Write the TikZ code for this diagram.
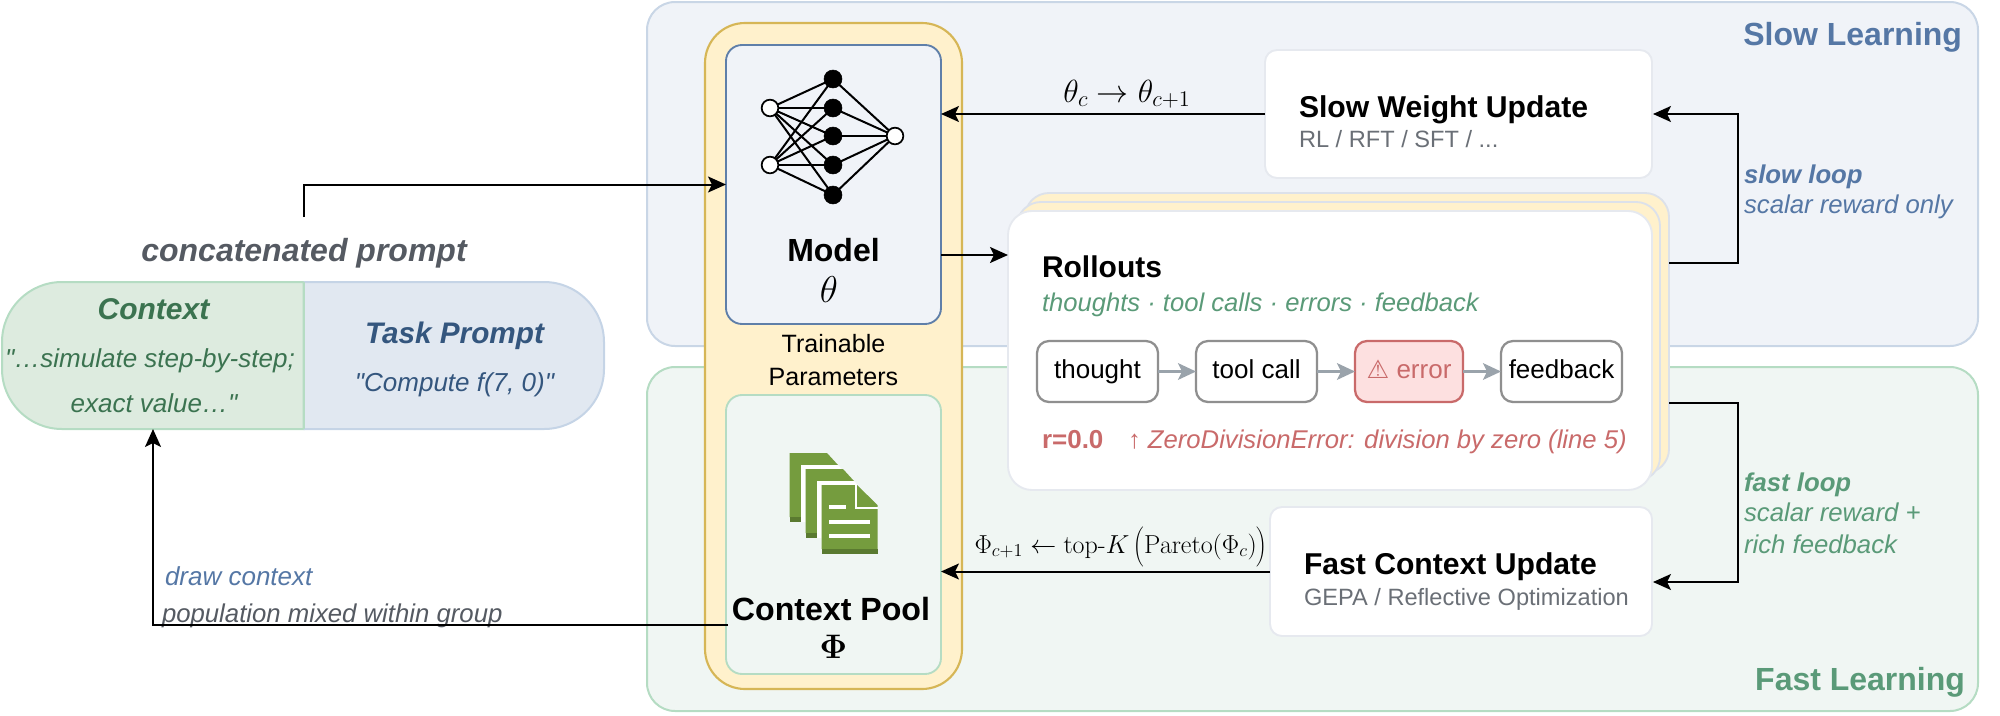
\RequirePackage{fix-cm}
\documentclass[tikz,border=0pt]{standalone}
\usepackage[no-math]{fontspec}
\setmainfont{Liberation Sans}[Ligatures=TeXOff]
\newfontfamily\symfont{DejaVu Sans}
\newfontfamily\cmfont{Latin Modern Roman}
\usetikzlibrary{arrows.meta,calc}
\definecolor{slowfill}{HTML}{F0F3F8}
\definecolor{slowline}{HTML}{C9D6E6}
\definecolor{fastfill}{HTML}{F0F6F3}
\definecolor{fastline}{HTML}{B5DCC3}
\definecolor{yelfill}{HTML}{FFF1CC}
\definecolor{yelline}{HTML}{D6B656}
\definecolor{modelline}{HTML}{5F7FA9}
\definecolor{cardline}{HTML}{E6E9EF}
\definecolor{stackline}{HTML}{DCE1EA}
\definecolor{pillgreen}{HTML}{DDEBDF}
\definecolor{pillblue}{HTML}{E1E8F1}
\definecolor{pillblueline}{HTML}{C5D4E6}
\definecolor{dkgreen}{HTML}{3B7350}
\definecolor{dkblue}{HTML}{34567E}
\definecolor{midgreen}{HTML}{5A9A78}
\definecolor{midblue}{HTML}{5577A5}
\definecolor{txtgray}{HTML}{555A62}
\definecolor{subgray}{HTML}{6A6F76}
\definecolor{errred}{HTML}{C96A6A}
\definecolor{errfill}{HTML}{FDE0E0}
\definecolor{stepline}{HTML}{8F8F8F}
\definecolor{grayarrow}{HTML}{9AA3AB}
\definecolor{docgreen}{HTML}{759C3E}
\definecolor{docdark}{HTML}{5A7A30}
\tikzset{
  x=0.75pt,y=-0.75pt,
  wh/.style 2 args={minimum width=#1*0.75pt,minimum height=#2*0.75pt},
  boxbase/.style={rectangle,inner sep=0pt,outer sep=0pt},
  panelslow/.style={boxbase,draw=slowline,fill=slowfill,line width=1.5pt,rounded corners=21pt},
  panelfast/.style={boxbase,draw=fastline,fill=fastfill,line width=1.5pt,rounded corners=21pt},
  yelbox/.style={boxbase,draw=yelline,fill=yelfill,line width=1.6pt,rounded corners=30pt},
  modelbox/.style={boxbase,draw=modelline,fill=slowfill,line width=1.4pt,rounded corners=12pt},
  poolbox/.style={boxbase,draw=fastline,fill=fastfill,line width=1.4pt,rounded corners=12pt},
  cardbox/.style={boxbase,draw=cardline,fill=white,line width=1.4pt,rounded corners=9pt},
  stackback/.style={boxbase,draw=stackline,fill=yelfill,line width=1.4pt,rounded corners=18pt},
  stackfront/.style={boxbase,draw=cardline,fill=white,line width=1.4pt,rounded corners=18pt},
  stepbox/.style={boxbase,draw=stepline,fill=white,line width=1.7pt,rounded corners=9pt,text height=14pt,text depth=4.2pt,font=\fontsize{19.5}{19.5}\selectfont},
  errbox/.style={boxbase,draw=errred,fill=errfill,line width=1.7pt,rounded corners=9pt,text=errred,text height=14pt,text depth=4.2pt,font=\fontsize{19.5}{19.5}\selectfont},
  arr/.style={draw=black,line width=1.5pt,-{Stealth[length=13.5pt,width=12pt,inset=3pt]}},
  grayarr/.style={draw=grayarrow,line width=1.8pt,-{Stealth[length=13.5pt,width=12.5pt,inset=3pt,fill=grayarrow]}},
  lbl/.style={inner sep=0pt,outer sep=0pt,anchor=base west},
  clbl/.style={inner sep=0pt,outer sep=0pt,anchor=base},
  rlbl/.style={inner sep=0pt,outer sep=0pt,anchor=base east},
  sz/.style={font=\fontsize{#1}{#1}\selectfont},
  szbi/.style={font=\fontsize{#1}{#1}\selectfont\bfseries\itshape},
  szb/.style={font=\fontsize{#1}{#1}\selectfont\bfseries},
  szi/.style={font=\fontsize{#1}{#1}\selectfont\itshape},
  nin/.style={circle,draw=black,fill=white,line width=1.3pt,inner sep=0pt},
  nhid/.style={circle,draw=black,fill=black,inner sep=0pt},
  nnedge/.style={draw=black,line width=1.5pt},
}
\begin{document}
\begin{tikzpicture}
\useasboundingbox (0,0) rectangle (2000,715);
% panels
\node[panelslow,wh={1331}{344}] (slowpanel) at (1312.5,174) {};
\node[panelfast,wh={1331}{344}] (fastpanel) at (1312.5,539) {};
\node[rlbl,szb=24,text=midblue] (slowtitle) at (1962,45) {Slow Learning};
\node[rlbl,szb=24,text=midgreen] (fasttitle) at (1965,690) {Fast Learning};
% trainable
\node[yelbox,wh={257}{666}] (trainable) at (833.5,356) {};
\node[clbl,sz=18.8] (trainA) at (833.5,352.5) {Trainable};
\node[clbl,sz=18.8] (trainB) at (833.5,385.5) {Parameters};
\node[modelbox,wh={215}{279}] (model) at (833.5,184.5) {};
\node[poolbox,wh={215}{279}] (pool) at (833.5,534.5) {};
\node[clbl,szb=24] (modeltxt) at (833.5,261) {Model};
\node[clbl,sz=28] (thetatxt) at (829,302) {$\theta$};
\node[clbl,szb=24.1] (pooltxt) at (831,620) {Context Pool};
\node[clbl,sz=25.5] (phitxt) at (833.5,658) {$\mathbf{\Phi}$};
% neural net
\foreach \n/\y in {a/79,b/108,c/136,d/165,e/195}{\coordinate (h\n) at (833,\y);}
\coordinate (i1) at (770,108);\coordinate (i2) at (770,165);\coordinate (o1) at (895,136);
\foreach \i in {i1,i2}{\foreach \h in {ha,hb,hc,hd,he}{\draw[nnedge] (\i) -- (\h);}}
\foreach \h in {ha,hb,hc,hd,he}{\draw[nnedge] (\h) -- (o1);}
\foreach \n in {ha,hb,hc,hd,he}{\node[nhid,minimum size=13.5pt] at (\n) {};}
\foreach \n in {i1,i2,o1}{\node[nin,minimum size=12.5pt] at (\n) {};}
% document icon
\foreach \dx/\dy in {0/0,16/16}{
  \begin{scope}[shift={(\dx,\dy)}]
  \fill[docgreen] (789.5,453) -- (827,453) -- (838,465) -- (801,465) -- (801,517) -- (789.5,517) -- cycle;
  \fill[docdark] (789.5,517) rectangle (801,522);
  \fill[white] (801,465) -- (838,465) -- (841.5,469) -- (805.5,469) -- (805.5,522) -- (801,522) -- cycle;
  \end{scope}
}
\fill[docgreen] (821.5,485) -- (857,485) -- (877.5,505) -- (877.5,549) -- (821.5,549) -- cycle;
\fill[docdark] (821.5,549) rectangle (877.5,554);
\draw[white,line width=1.6pt] (856,485) -- (856,508) -- (877.5,508);
\fill[white] (829,505) rectangle (846,509);
\fill[white] (829,520) rectangle (870,524);
\fill[white] (829,534) rectangle (870,538);
% slow update
\node[cardbox,wh={387}{128}] (slowupd) at (1458.5,114) {};
\node[lbl,szb=22.6] (slowupdA) at (1299,117) {Slow Weight Update};
\node[lbl,sz=17.7,text=subgray] (slowupdB) at (1299,147) {RL / RFT / SFT / ...};
% fast update
\node[cardbox,wh={382}{129}] (fastupd) at (1461,571.5) {};
\node[lbl,szb=22.6] (fastupdA) at (1304,574) {Fast Context Update};
\node[lbl,sz=17.7,text=subgray] (fastupdB) at (1304,605) {GEPA / Reflective Optimization};
% rollouts stack
\node[stackback,wh={644}{280}] (stackA) at (1347,333) {};
\node[stackback,wh={643}{279}] (stackB) at (1338.5,341.5) {};
\node[stackfront,wh={644}{279}] (rollouts) at (1330,350.5) {};
\node[lbl,szb=22.5] (rolltitle) at (1042,277) {Rollouts};
\node[lbl,szi=19.2,text=midgreen] (rollsub) at (1042,311) {thoughts · tool calls · errors · feedback};
\node[stepbox,wh={121}{61}] (s1) at (1097.5,371.5) {thought};
\node[stepbox,wh={121}{61}] (s2) at (1256.5,371.5) {tool call};
\node[errbox,wh={108}{61}] (s3) at (1409,371.5) {{\symfont\fontsize{19}{19}\selectfont ⚠} error};
\node[stepbox,wh={121}{61}] (s4) at (1561.5,371.5) {feedback};
\draw[grayarr] (s1) -- (s2);
\draw[grayarr] (s2) -- (s3);
\draw[grayarr] (s3) -- (s4);
\node[lbl,szb=19.5,text=errred] (rval) at (1042,448) {r=0.0};
\node[lbl,szi=19.25,text=errred] (errmsg) at (1128,448) {↑ ZeroDivisionError: division by zero (line 5)};
% pill
\coordinate (pilltop) at (303.5,282);
\coordinate (pillbot) at (303.5,429);
\draw[fill=pillgreen,draw=fastline,line width=1.5pt,rounded corners=45pt] (pilltop) -- (2,282) -- (2,429) [sharp corners] -- (pillbot) -- cycle;
\draw[fill=pillblue,draw=pillblueline,line width=1.5pt,rounded corners=45pt] (pilltop) -- (604,282) -- (604,429) [sharp corners] -- (pillbot);
\draw[fastline,line width=1.5pt] (pilltop) -- (pillbot);
\node[boxbase,wh={301}{147}] (ctxcell) at (153,355.5) {};
\node[clbl,szbi=22.5,text=dkgreen] (ctxA) at (153.5,319) {Context};
\node[clbl,szi=19.5,text=dkgreen] (ctxB) at (150,367) {"…simulate step-by-step;};
\node[clbl,szi=19.5,text=dkgreen] (ctxC) at (154,412) {exact value…"};
\node[clbl,szbi=22.3,text=dkblue] (taskA) at (454.5,343) {Task Prompt};
\node[clbl,szi=19.5,text=dkblue] (taskB) at (454.5,391) {"Compute f(7, 0)"};
\node[clbl,szbi=24,text=txtgray] (concat) at (304,261) {concatenated prompt};
\node[lbl,szi=19.5,text=midblue] (drawctx) at (165,585) {draw context};
\node[lbl,szi=19.3,text=txtgray] (popmix) at (162,622) {population mixed within group};
\node[lbl,szbi=19.3,text=midblue] (slowA) at (1744,183) {slow loop};
\node[lbl,szi=19.3,text=midblue] (slowB) at (1744,213) {scalar reward only};
\node[lbl,szbi=19.3,text=midgreen] (fastA) at (1744,491) {fast loop};
\node[lbl,szi=19.3,text=midgreen] (fastB) at (1744,521) {scalar reward +};
\node[lbl,szi=19.3,text=midgreen] (fastC) at (1744,553) {rich feedback};
% connectors
\coordinate (promptout) at (304,217);
\coordinate (modelout) at (941,255);
\coordinate (rollin) at (1008,255);
\coordinate (rollslow) at (1669,263);
\coordinate (rollfast) at (1669,403);
\coordinate (slowin) at (1653,114);
\coordinate (fastin) at (1653,582);
\coordinate (poolout) at (728,625);
\draw[arr] (promptout) |- (model.west);
\draw[arr] (slowupd.west) -- (model.east |- slowupd.west);
\draw[arr] (modelout) -- (rollin);
\draw[arr] (fastupd.west) -- (pool.east |- fastupd.west);
\draw[arr] (rollslow) -- (1738,263) -- (1738,114) -- (slowin);
\draw[arr] (rollfast) -- (1738,403) -- (1738,582) -- (fastin);
\draw[arr] (poolout) -| (ctxcell.south);
% formulas
\node[clbl,sz=24] (thetaform) at (1127,102) {$\theta_c\rightarrow\theta_{c+1}$};
\node[clbl,sz=19.5] (phiform) at (1121,553) {$\Phi_{c+1}\leftarrow\mbox{\cmfont top-}K\left(\vrule height 21pt depth 11pt width 0pt\mathrm{Pareto}(\Phi_c)\right)$};
\end{tikzpicture}
\end{document}
